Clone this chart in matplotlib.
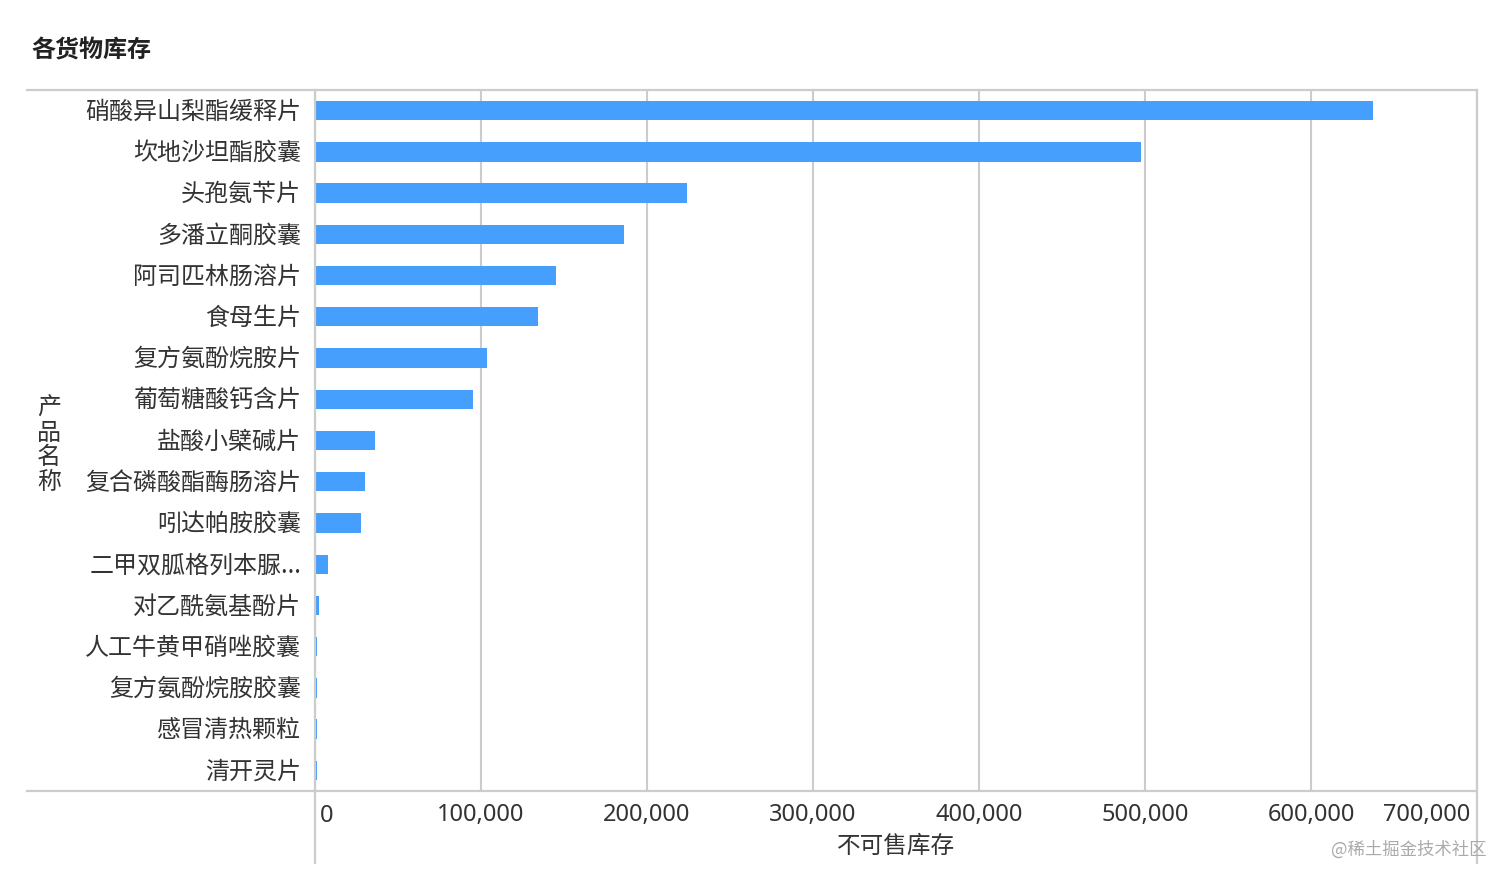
import matplotlib
matplotlib.use("Agg")
import matplotlib.pyplot as plt
from matplotlib.lines import Line2D
from matplotlib.ticker import FixedLocator
import matplotlib.transforms as mtransforms

plt.rcParams['font.family'] = ['Noto Sans CJK SC', 'DejaVu Sans']

categories = ["硝酸异山梨酯缓释片", "坎地沙坦酯胶囊", "头孢氨苄片", "多潘立酮胶囊",
              "阿司匹林肠溶片", "食母生片", "复方氨酚烷胺片", "葡萄糖酸钙含片",
              "盐酸小檗碱片", "复合磷酸酯酶肠溶片", "吲达帕胺胶囊", "二甲双胍格列本脲...",
              "对乙酰氨基酚片", "人工牛黄甲硝唑胶囊", "复方氨酚烷胺胶囊", "感冒清热颗粒", "清开灵片"]
values = [637500, 497300, 224200, 186000, 145300, 134400, 103500, 95000,
          36300, 30300, 27900, 7800, 2200, 1000, 1000, 1000, 1000]
x_ticks = [0, 100000, 200000, 300000, 400000, 500000, 600000, 700000]
x_tick_labels = ["0", "100,000", "200,000", "300,000", "400,000", "500,000", "600,000", "700,000"]

W, H = 1512, 885
fig = plt.figure(figsize=(W / 100, H / 100), dpi=100)
L, R, T, B = 315, 1477, 90, 791
ax = fig.add_axes([L / W, 1 - B / H, (R - L) / W, (B - T) / H])

ypos = list(range(len(categories)))
ax.barh(ypos, values, height=0.47, color="#469ffd", zorder=3)
ax.set_ylim(len(categories) - 0.5, -0.5)
ax.set_xlim(0, 700000)

for s in ax.spines.values():
    s.set_visible(False)

ax.set_yticks(ypos)
ax.set_yticklabels(categories, fontsize=17.3, color="#333333")
ax.tick_params(axis='y', length=0, pad=10)
for lab in ax.get_yticklabels():
    lab.set_transform(lab.get_transform() +
                      mtransforms.ScaledTranslation(0, 2 / 100, fig.dpi_scale_trans))

ax.xaxis.set_major_locator(FixedLocator(x_ticks))
ax.set_xticklabels(x_tick_labels, fontsize=17, color="#333333",
                   family=['Noto Sans', 'DejaVu Sans'])
ax.tick_params(axis='x', length=0, pad=9)
labels = ax.get_xticklabels()
labels[0].set_horizontalalignment('left')
labels[-1].set_horizontalalignment('right')
off0 = mtransforms.ScaledTranslation(5 / 100, 0, fig.dpi_scale_trans)
offN = mtransforms.ScaledTranslation(-7 / 100, 0, fig.dpi_scale_trans)
labels[0].set_transform(labels[0].get_transform() + off0)
labels[-1].set_transform(labels[-1].get_transform() + offN)

ax.grid(axis='x', color="#cccccc", linewidth=1.5, zorder=0)
ax.grid(axis='y', visible=False)
ax.set_axisbelow(True)

ax.set_xlabel("不可售库存", fontsize=17, color="#333333", labelpad=5)

# stacked y label
fig.text(49 / W, 1 - 445 / H, "产\n品\n名\n称", fontsize=17.3, color="#333333",
         ha='center', va='center', linespacing=0.93)

# frame lines
line_c = "#cccccc"
lw = 1.6
def fl(x0, y0, x1, y1):
    fig.add_artist(Line2D([x0 / W, x1 / W], [1 - y0 / H, 1 - y1 / H],
                          color=line_c, linewidth=lw, transform=fig.transFigure))
fl(27, T, R, T)
fl(27, B, R, B)
fl(L, T, L, 863)
fl(R, T, R, 863)

# title
fig.text(31 / W, 1 - 51 / H, "各货物库存", fontsize=17.3, fontweight='bold',
         color="#222222", ha='left', va='center')

# watermark
fig.text(1487 / W, 1 - 850 / H, "@稀土掘金技术社区", fontsize=12.5, color="#aaaaaa",
         ha='right', va='center')

fig.savefig("out.png", dpi=100)
